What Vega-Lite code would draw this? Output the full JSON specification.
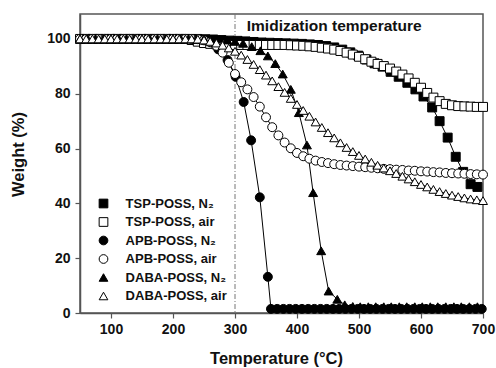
{
  "$schema": "https://vega.github.io/schema/vega-lite/v6.json",
  "width": 403,
  "height": 299,
  "autosize": {"type": "none"},
  "padding": {"left": 80, "top": 14, "right": 13, "bottom": 55},
  "background": "white",
  "config": {
    "font": "Liberation Sans",
    "view": {"stroke": "#555", "strokeWidth": 1.5},
    "axis": {
      "grid": false,
      "domainColor": "#555",
      "domainWidth": 1.5,
      "tickColor": "#555",
      "tickWidth": 1.2,
      "labelFont": "Liberation Sans",
      "labelFontWeight": "bold",
      "labelFontSize": 14,
      "labelColor": "#111",
      "titleFont": "Liberation Sans",
      "titleFontWeight": "bold",
      "titleFontSize": 16.5,
      "titleColor": "#111"
    },
    "legend": {
      "orient": "none",
      "legendX": 17,
      "legendY": 183,
      "padding": 0,
      "rowPadding": 4.5,
      "labelOffset": 15.6,
      "labelFont": "Liberation Sans",
      "labelFontWeight": "bold",
      "labelFontSize": 13,
      "labelColor": "#111",
      "symbolSize": 76,
      "symbolStrokeWidth": 1
    }
  },
  "datasets": {
    "tga": [
    {"series":"TSP-POSS, N₂","temp":57,"weight":100},{"series":"TSP-POSS, N₂","temp":70,"weight":100},{"series":"TSP-POSS, N₂","temp":83,"weight":100},{"series":"TSP-POSS, N₂","temp":96,"weight":100},{"series":"TSP-POSS, N₂","temp":109,"weight":100},{"series":"TSP-POSS, N₂","temp":122,"weight":100},{"series":"TSP-POSS, N₂","temp":135,"weight":100},{"series":"TSP-POSS, N₂","temp":148,"weight":100},{"series":"TSP-POSS, N₂","temp":161,"weight":100},{"series":"TSP-POSS, N₂","temp":174,"weight":100},{"series":"TSP-POSS, N₂","temp":187,"weight":100},{"series":"TSP-POSS, N₂","temp":200,"weight":100},{"series":"TSP-POSS, N₂","temp":213,"weight":100},{"series":"TSP-POSS, N₂","temp":226,"weight":100},{"series":"TSP-POSS, N₂","temp":239,"weight":100},{"series":"TSP-POSS, N₂","temp":252,"weight":99.9},{"series":"TSP-POSS, N₂","temp":265,"weight":99.8},{"series":"TSP-POSS, N₂","temp":278,"weight":99.6},{"series":"TSP-POSS, N₂","temp":291,"weight":99.4},{"series":"TSP-POSS, N₂","temp":304,"weight":99.3},{"series":"TSP-POSS, N₂","temp":317,"weight":99.1},{"series":"TSP-POSS, N₂","temp":330,"weight":98.9},{"series":"TSP-POSS, N₂","temp":343,"weight":98.7},{"series":"TSP-POSS, N₂","temp":356,"weight":98.6},{"series":"TSP-POSS, N₂","temp":369,"weight":98.5},{"series":"TSP-POSS, N₂","temp":382,"weight":98.4},{"series":"TSP-POSS, N₂","temp":395,"weight":98.3},{"series":"TSP-POSS, N₂","temp":408,"weight":98.2},{"series":"TSP-POSS, N₂","temp":421,"weight":98.0},{"series":"TSP-POSS, N₂","temp":434,"weight":97.8},{"series":"TSP-POSS, N₂","temp":447,"weight":97.4},{"series":"TSP-POSS, N₂","temp":460,"weight":96.9},{"series":"TSP-POSS, N₂","temp":473,"weight":96.1},{"series":"TSP-POSS, N₂","temp":486,"weight":95.1},{"series":"TSP-POSS, N₂","temp":499,"weight":93.9},{"series":"TSP-POSS, N₂","temp":512,"weight":92.5},{"series":"TSP-POSS, N₂","temp":525,"weight":91.1},{"series":"TSP-POSS, N₂","temp":538,"weight":89.9},{"series":"TSP-POSS, N₂","temp":551,"weight":88.0},{"series":"TSP-POSS, N₂","temp":564,"weight":86.2},{"series":"TSP-POSS, N₂","temp":578,"weight":84.0},{"series":"TSP-POSS, N₂","temp":591,"weight":81.6},{"series":"TSP-POSS, N₂","temp":604,"weight":79.0},{"series":"TSP-POSS, N₂","temp":618,"weight":75.0},{"series":"TSP-POSS, N₂","temp":630,"weight":70.0},{"series":"TSP-POSS, N₂","temp":643,"weight":64.0},{"series":"TSP-POSS, N₂","temp":656,"weight":57.0},{"series":"TSP-POSS, N₂","temp":668,"weight":51.5},{"series":"TSP-POSS, N₂","temp":680,"weight":47.0},{"series":"TSP-POSS, N₂","temp":691,"weight":46.0},

    {"series":"TSP-POSS, air","temp":50,"weight":100},{"series":"TSP-POSS, air","temp":60,"weight":100},{"series":"TSP-POSS, air","temp":70,"weight":100},{"series":"TSP-POSS, air","temp":80,"weight":100},{"series":"TSP-POSS, air","temp":90,"weight":100},{"series":"TSP-POSS, air","temp":100,"weight":100},{"series":"TSP-POSS, air","temp":110,"weight":100},{"series":"TSP-POSS, air","temp":120,"weight":100},{"series":"TSP-POSS, air","temp":130,"weight":100},{"series":"TSP-POSS, air","temp":140,"weight":100},{"series":"TSP-POSS, air","temp":150,"weight":100},{"series":"TSP-POSS, air","temp":160,"weight":100},{"series":"TSP-POSS, air","temp":170,"weight":100},{"series":"TSP-POSS, air","temp":180,"weight":100},{"series":"TSP-POSS, air","temp":190,"weight":100},{"series":"TSP-POSS, air","temp":200,"weight":100},{"series":"TSP-POSS, air","temp":210,"weight":100},{"series":"TSP-POSS, air","temp":220,"weight":100},{"series":"TSP-POSS, air","temp":230,"weight":99.6},{"series":"TSP-POSS, air","temp":240,"weight":99.0},{"series":"TSP-POSS, air","temp":250,"weight":98.5},{"series":"TSP-POSS, air","temp":260,"weight":98.2},{"series":"TSP-POSS, air","temp":270,"weight":98.0},{"series":"TSP-POSS, air","temp":280,"weight":97.9},{"series":"TSP-POSS, air","temp":290,"weight":97.8},{"series":"TSP-POSS, air","temp":300,"weight":97.8},{"series":"TSP-POSS, air","temp":310,"weight":97.8},{"series":"TSP-POSS, air","temp":320,"weight":97.8},{"series":"TSP-POSS, air","temp":330,"weight":97.8},{"series":"TSP-POSS, air","temp":340,"weight":97.8},{"series":"TSP-POSS, air","temp":350,"weight":97.8},{"series":"TSP-POSS, air","temp":360,"weight":97.8},{"series":"TSP-POSS, air","temp":370,"weight":97.8},{"series":"TSP-POSS, air","temp":380,"weight":97.8},{"series":"TSP-POSS, air","temp":390,"weight":97.7},{"series":"TSP-POSS, air","temp":400,"weight":97.6},{"series":"TSP-POSS, air","temp":410,"weight":97.5},{"series":"TSP-POSS, air","temp":420,"weight":97.3},{"series":"TSP-POSS, air","temp":430,"weight":97.1},{"series":"TSP-POSS, air","temp":440,"weight":96.8},{"series":"TSP-POSS, air","temp":450,"weight":96.5},{"series":"TSP-POSS, air","temp":460,"weight":96.1},{"series":"TSP-POSS, air","temp":470,"weight":95.6},{"series":"TSP-POSS, air","temp":480,"weight":95.0},{"series":"TSP-POSS, air","temp":490,"weight":94.3},{"series":"TSP-POSS, air","temp":500,"weight":93.5},{"series":"TSP-POSS, air","temp":510,"weight":92.6},{"series":"TSP-POSS, air","temp":520,"weight":91.7},{"series":"TSP-POSS, air","temp":530,"weight":90.9},{"series":"TSP-POSS, air","temp":540,"weight":90.1},{"series":"TSP-POSS, air","temp":550,"weight":89.2},{"series":"TSP-POSS, air","temp":560,"weight":88.1},{"series":"TSP-POSS, air","temp":570,"weight":87.0},{"series":"TSP-POSS, air","temp":580,"weight":85.6},{"series":"TSP-POSS, air","temp":590,"weight":84.0},{"series":"TSP-POSS, air","temp":600,"weight":82.2},{"series":"TSP-POSS, air","temp":610,"weight":80.3},{"series":"TSP-POSS, air","temp":620,"weight":78.6},{"series":"TSP-POSS, air","temp":630,"weight":77.3},{"series":"TSP-POSS, air","temp":640,"weight":76.3},{"series":"TSP-POSS, air","temp":650,"weight":75.8},{"series":"TSP-POSS, air","temp":660,"weight":75.5},{"series":"TSP-POSS, air","temp":670,"weight":75.4},{"series":"TSP-POSS, air","temp":680,"weight":75.3},{"series":"TSP-POSS, air","temp":690,"weight":75.2},{"series":"TSP-POSS, air","temp":700,"weight":75.2},

    {"series":"APB-POSS, N₂","temp":52,"weight":100},{"series":"APB-POSS, N₂","temp":65,"weight":100},{"series":"APB-POSS, N₂","temp":78,"weight":100},{"series":"APB-POSS, N₂","temp":91,"weight":100},{"series":"APB-POSS, N₂","temp":104,"weight":100},{"series":"APB-POSS, N₂","temp":117,"weight":100},{"series":"APB-POSS, N₂","temp":130,"weight":100},{"series":"APB-POSS, N₂","temp":143,"weight":100},{"series":"APB-POSS, N₂","temp":156,"weight":100},{"series":"APB-POSS, N₂","temp":169,"weight":100},{"series":"APB-POSS, N₂","temp":182,"weight":100},{"series":"APB-POSS, N₂","temp":195,"weight":100},{"series":"APB-POSS, N₂","temp":208,"weight":100},{"series":"APB-POSS, N₂","temp":221,"weight":100},{"series":"APB-POSS, N₂","temp":234,"weight":100},{"series":"APB-POSS, N₂","temp":247,"weight":99.7},{"series":"APB-POSS, N₂","temp":260,"weight":98.8},{"series":"APB-POSS, N₂","temp":273,"weight":96.2},{"series":"APB-POSS, N₂","temp":288,"weight":92.3},{"series":"APB-POSS, N₂","temp":301,"weight":86.2},{"series":"APB-POSS, N₂","temp":314,"weight":77.0},{"series":"APB-POSS, N₂","temp":326,"weight":63.0},{"series":"APB-POSS, N₂","temp":340,"weight":42.2},{"series":"APB-POSS, N₂","temp":353,"weight":13.2},{"series":"APB-POSS, N₂","temp":358,"weight":1.5},{"series":"APB-POSS, N₂","temp":368,"weight":1.5},{"series":"APB-POSS, N₂","temp":378,"weight":1.5},{"series":"APB-POSS, N₂","temp":388,"weight":1.5},{"series":"APB-POSS, N₂","temp":398,"weight":1.5},{"series":"APB-POSS, N₂","temp":408,"weight":1.5},{"series":"APB-POSS, N₂","temp":418,"weight":1.5},{"series":"APB-POSS, N₂","temp":428,"weight":1.5},{"series":"APB-POSS, N₂","temp":438,"weight":1.5},{"series":"APB-POSS, N₂","temp":448,"weight":1.5},{"series":"APB-POSS, N₂","temp":458,"weight":1.5},{"series":"APB-POSS, N₂","temp":468,"weight":1.5},{"series":"APB-POSS, N₂","temp":478,"weight":1.5},{"series":"APB-POSS, N₂","temp":488,"weight":1.5},{"series":"APB-POSS, N₂","temp":498,"weight":1.5},{"series":"APB-POSS, N₂","temp":508,"weight":1.5},{"series":"APB-POSS, N₂","temp":518,"weight":1.5},{"series":"APB-POSS, N₂","temp":528,"weight":1.5},{"series":"APB-POSS, N₂","temp":538,"weight":1.5},{"series":"APB-POSS, N₂","temp":548,"weight":1.5},{"series":"APB-POSS, N₂","temp":558,"weight":1.5},{"series":"APB-POSS, N₂","temp":568,"weight":1.5},{"series":"APB-POSS, N₂","temp":578,"weight":1.5},{"series":"APB-POSS, N₂","temp":588,"weight":1.5},{"series":"APB-POSS, N₂","temp":598,"weight":1.5},{"series":"APB-POSS, N₂","temp":608,"weight":1.5},{"series":"APB-POSS, N₂","temp":618,"weight":1.5},{"series":"APB-POSS, N₂","temp":628,"weight":1.5},{"series":"APB-POSS, N₂","temp":638,"weight":1.5},{"series":"APB-POSS, N₂","temp":648,"weight":1.5},{"series":"APB-POSS, N₂","temp":658,"weight":1.5},{"series":"APB-POSS, N₂","temp":668,"weight":1.5},{"series":"APB-POSS, N₂","temp":678,"weight":1.5},{"series":"APB-POSS, N₂","temp":688,"weight":1.5},{"series":"APB-POSS, N₂","temp":698,"weight":1.5},

    {"series":"APB-POSS, air","temp":50,"weight":100},{"series":"APB-POSS, air","temp":60,"weight":100},{"series":"APB-POSS, air","temp":70,"weight":100},{"series":"APB-POSS, air","temp":80,"weight":100},{"series":"APB-POSS, air","temp":90,"weight":100},{"series":"APB-POSS, air","temp":100,"weight":100},{"series":"APB-POSS, air","temp":110,"weight":100},{"series":"APB-POSS, air","temp":120,"weight":100},{"series":"APB-POSS, air","temp":130,"weight":100},{"series":"APB-POSS, air","temp":140,"weight":100},{"series":"APB-POSS, air","temp":150,"weight":100},{"series":"APB-POSS, air","temp":160,"weight":100},{"series":"APB-POSS, air","temp":170,"weight":100},{"series":"APB-POSS, air","temp":180,"weight":100},{"series":"APB-POSS, air","temp":190,"weight":100},{"series":"APB-POSS, air","temp":200,"weight":100},{"series":"APB-POSS, air","temp":210,"weight":100},{"series":"APB-POSS, air","temp":220,"weight":100},{"series":"APB-POSS, air","temp":230,"weight":100},{"series":"APB-POSS, air","temp":240,"weight":99.9},{"series":"APB-POSS, air","temp":250,"weight":99.5},{"series":"APB-POSS, air","temp":260,"weight":98.8},{"series":"APB-POSS, air","temp":270,"weight":97.5},{"series":"APB-POSS, air","temp":280,"weight":95.0},{"series":"APB-POSS, air","temp":290,"weight":91.3},{"series":"APB-POSS, air","temp":300,"weight":87.2},{"series":"APB-POSS, air","temp":310,"weight":84.2},{"series":"APB-POSS, air","temp":320,"weight":81.6},{"series":"APB-POSS, air","temp":330,"weight":78.8},{"series":"APB-POSS, air","temp":340,"weight":75.3},{"series":"APB-POSS, air","temp":350,"weight":71.4},{"series":"APB-POSS, air","temp":360,"weight":67.8},{"series":"APB-POSS, air","temp":370,"weight":64.8},{"series":"APB-POSS, air","temp":380,"weight":62.2},{"series":"APB-POSS, air","temp":390,"weight":60.1},{"series":"APB-POSS, air","temp":400,"weight":58.4},{"series":"APB-POSS, air","temp":410,"weight":57.2},{"series":"APB-POSS, air","temp":420,"weight":56.3},{"series":"APB-POSS, air","temp":430,"weight":55.6},{"series":"APB-POSS, air","temp":440,"weight":55.1},{"series":"APB-POSS, air","temp":450,"weight":54.7},{"series":"APB-POSS, air","temp":460,"weight":54.3},{"series":"APB-POSS, air","temp":470,"weight":54.0},{"series":"APB-POSS, air","temp":480,"weight":53.8},{"series":"APB-POSS, air","temp":490,"weight":53.6},{"series":"APB-POSS, air","temp":500,"weight":53.4},{"series":"APB-POSS, air","temp":510,"weight":53.2},{"series":"APB-POSS, air","temp":520,"weight":53.0},{"series":"APB-POSS, air","temp":530,"weight":52.8},{"series":"APB-POSS, air","temp":540,"weight":52.6},{"series":"APB-POSS, air","temp":550,"weight":52.5},{"series":"APB-POSS, air","temp":560,"weight":52.3},{"series":"APB-POSS, air","temp":570,"weight":52.2},{"series":"APB-POSS, air","temp":580,"weight":52.0},{"series":"APB-POSS, air","temp":590,"weight":51.9},{"series":"APB-POSS, air","temp":600,"weight":51.7},{"series":"APB-POSS, air","temp":610,"weight":51.6},{"series":"APB-POSS, air","temp":620,"weight":51.4},{"series":"APB-POSS, air","temp":630,"weight":51.3},{"series":"APB-POSS, air","temp":640,"weight":51.1},{"series":"APB-POSS, air","temp":650,"weight":51.0},{"series":"APB-POSS, air","temp":660,"weight":50.9},{"series":"APB-POSS, air","temp":670,"weight":50.8},{"series":"APB-POSS, air","temp":680,"weight":50.7},{"series":"APB-POSS, air","temp":690,"weight":50.6},{"series":"APB-POSS, air","temp":700,"weight":50.5},

    {"series":"DABA-POSS, N₂","temp":50,"weight":100},{"series":"DABA-POSS, N₂","temp":62.5,"weight":100},{"series":"DABA-POSS, N₂","temp":75,"weight":100},{"series":"DABA-POSS, N₂","temp":87.5,"weight":100},{"series":"DABA-POSS, N₂","temp":100,"weight":100},{"series":"DABA-POSS, N₂","temp":112.5,"weight":100},{"series":"DABA-POSS, N₂","temp":125,"weight":100},{"series":"DABA-POSS, N₂","temp":137.5,"weight":100},{"series":"DABA-POSS, N₂","temp":150,"weight":100},{"series":"DABA-POSS, N₂","temp":162.5,"weight":100},{"series":"DABA-POSS, N₂","temp":175,"weight":100},{"series":"DABA-POSS, N₂","temp":187.5,"weight":100},{"series":"DABA-POSS, N₂","temp":200,"weight":100},{"series":"DABA-POSS, N₂","temp":212.5,"weight":100},{"series":"DABA-POSS, N₂","temp":225,"weight":100},{"series":"DABA-POSS, N₂","temp":237.5,"weight":100},{"series":"DABA-POSS, N₂","temp":250,"weight":100},{"series":"DABA-POSS, N₂","temp":262.5,"weight":100},{"series":"DABA-POSS, N₂","temp":275,"weight":100},{"series":"DABA-POSS, N₂","temp":287.5,"weight":99.6},{"series":"DABA-POSS, N₂","temp":300,"weight":99.1},{"series":"DABA-POSS, N₂","temp":313,"weight":98.4},{"series":"DABA-POSS, N₂","temp":327,"weight":97.2},{"series":"DABA-POSS, N₂","temp":341,"weight":95.7},{"series":"DABA-POSS, N₂","temp":353,"weight":93.8},{"series":"DABA-POSS, N₂","temp":365,"weight":91.0},{"series":"DABA-POSS, N₂","temp":377,"weight":87.2},{"series":"DABA-POSS, N₂","temp":390,"weight":81.6},{"series":"DABA-POSS, N₂","temp":403,"weight":73.1},{"series":"DABA-POSS, N₂","temp":416,"weight":61.3},{"series":"DABA-POSS, N₂","temp":426,"weight":43.9},{"series":"DABA-POSS, N₂","temp":439,"weight":22.7},{"series":"DABA-POSS, N₂","temp":451,"weight":8.0},{"series":"DABA-POSS, N₂","temp":465,"weight":5.0},{"series":"DABA-POSS, N₂","temp":477,"weight":3.0},{"series":"DABA-POSS, N₂","temp":490,"weight":2.4},{"series":"DABA-POSS, N₂","temp":502,"weight":2.3},{"series":"DABA-POSS, N₂","temp":515,"weight":2.3},{"series":"DABA-POSS, N₂","temp":527,"weight":2.3},{"series":"DABA-POSS, N₂","temp":540,"weight":2.3},{"series":"DABA-POSS, N₂","temp":552,"weight":2.3},{"series":"DABA-POSS, N₂","temp":565,"weight":2.3},{"series":"DABA-POSS, N₂","temp":577,"weight":2.3},{"series":"DABA-POSS, N₂","temp":590,"weight":2.3},{"series":"DABA-POSS, N₂","temp":602,"weight":2.3},{"series":"DABA-POSS, N₂","temp":615,"weight":2.3},{"series":"DABA-POSS, N₂","temp":627,"weight":2.3},{"series":"DABA-POSS, N₂","temp":640,"weight":2.3},{"series":"DABA-POSS, N₂","temp":653,"weight":2.3},{"series":"DABA-POSS, N₂","temp":665,"weight":2.3},{"series":"DABA-POSS, N₂","temp":678,"weight":2.3},{"series":"DABA-POSS, N₂","temp":691,"weight":2.3},

    {"series":"DABA-POSS, air","temp":50,"weight":100},{"series":"DABA-POSS, air","temp":60,"weight":100},{"series":"DABA-POSS, air","temp":70,"weight":100},{"series":"DABA-POSS, air","temp":80,"weight":100},{"series":"DABA-POSS, air","temp":90,"weight":100},{"series":"DABA-POSS, air","temp":100,"weight":100},{"series":"DABA-POSS, air","temp":110,"weight":100},{"series":"DABA-POSS, air","temp":120,"weight":100},{"series":"DABA-POSS, air","temp":130,"weight":100},{"series":"DABA-POSS, air","temp":140,"weight":100},{"series":"DABA-POSS, air","temp":150,"weight":100},{"series":"DABA-POSS, air","temp":160,"weight":100},{"series":"DABA-POSS, air","temp":170,"weight":100},{"series":"DABA-POSS, air","temp":180,"weight":100},{"series":"DABA-POSS, air","temp":190,"weight":100},{"series":"DABA-POSS, air","temp":200,"weight":100},{"series":"DABA-POSS, air","temp":210,"weight":100},{"series":"DABA-POSS, air","temp":220,"weight":100},{"series":"DABA-POSS, air","temp":230,"weight":100},{"series":"DABA-POSS, air","temp":240,"weight":99.9},{"series":"DABA-POSS, air","temp":250,"weight":99.6},{"series":"DABA-POSS, air","temp":260,"weight":99.1},{"series":"DABA-POSS, air","temp":270,"weight":98.5},{"series":"DABA-POSS, air","temp":280,"weight":97.7},{"series":"DABA-POSS, air","temp":290,"weight":96.7},{"series":"DABA-POSS, air","temp":300,"weight":95.5},{"series":"DABA-POSS, air","temp":310,"weight":94.1},{"series":"DABA-POSS, air","temp":320,"weight":92.5},{"series":"DABA-POSS, air","temp":330,"weight":90.7},{"series":"DABA-POSS, air","temp":340,"weight":88.8},{"series":"DABA-POSS, air","temp":350,"weight":86.8},{"series":"DABA-POSS, air","temp":360,"weight":84.7},{"series":"DABA-POSS, air","temp":370,"weight":82.6},{"series":"DABA-POSS, air","temp":380,"weight":80.5},{"series":"DABA-POSS, air","temp":390,"weight":78.3},{"series":"DABA-POSS, air","temp":400,"weight":76.1},{"series":"DABA-POSS, air","temp":410,"weight":73.9},{"series":"DABA-POSS, air","temp":420,"weight":71.8},{"series":"DABA-POSS, air","temp":430,"weight":69.7},{"series":"DABA-POSS, air","temp":440,"weight":67.7},{"series":"DABA-POSS, air","temp":450,"weight":65.8},{"series":"DABA-POSS, air","temp":460,"weight":63.9},{"series":"DABA-POSS, air","temp":470,"weight":62.1},{"series":"DABA-POSS, air","temp":480,"weight":60.4},{"series":"DABA-POSS, air","temp":490,"weight":58.9},{"series":"DABA-POSS, air","temp":500,"weight":57.5},{"series":"DABA-POSS, air","temp":510,"weight":56.2},{"series":"DABA-POSS, air","temp":520,"weight":55.0},{"series":"DABA-POSS, air","temp":530,"weight":53.9},{"series":"DABA-POSS, air","temp":540,"weight":52.9},{"series":"DABA-POSS, air","temp":550,"weight":51.9},{"series":"DABA-POSS, air","temp":560,"weight":50.9},{"series":"DABA-POSS, air","temp":570,"weight":49.9},{"series":"DABA-POSS, air","temp":580,"weight":48.9},{"series":"DABA-POSS, air","temp":590,"weight":47.9},{"series":"DABA-POSS, air","temp":600,"weight":46.9},{"series":"DABA-POSS, air","temp":610,"weight":46.0},{"series":"DABA-POSS, air","temp":620,"weight":45.1},{"series":"DABA-POSS, air","temp":630,"weight":44.3},{"series":"DABA-POSS, air","temp":640,"weight":43.6},{"series":"DABA-POSS, air","temp":650,"weight":43.0},{"series":"DABA-POSS, air","temp":660,"weight":42.5},{"series":"DABA-POSS, air","temp":670,"weight":42.0},{"series":"DABA-POSS, air","temp":680,"weight":41.6},{"series":"DABA-POSS, air","temp":690,"weight":41.3},{"series":"DABA-POSS, air","temp":700,"weight":41.0}
    ],
    "note": [{"label": "Imidization temperature"}]
  },
  "layer": [
    {
      "data": {"name": "note"},
      "mark": {"type": "rule", "color": "#777", "strokeWidth": 1, "strokeDash": [5, 2, 1, 2]},
      "encoding": {"x": {"datum": 300, "type": "quantitative", "scale": {"domain": [50, 700], "nice": false, "zero": false}}}
    },
    {
      "data": {"name": "tga"},
      "mark": {"type": "line", "color": "black", "strokeWidth": 1},
      "encoding": {
        "x": {
          "field": "temp", "type": "quantitative",
          "scale": {"domain": [50, 700], "nice": false, "zero": false},
          "axis": {
            "title": "Temperature (°C)",
            "values": [100,150,200,250,300,350,400,450,500,550,600,650,700],
            "labelExpr": "datum.value % 100 === 0 ? datum.label : ''",
            "tickSize": {"condition": {"test": "datum.value % 100 === 0", "value": 5}, "value": 3},
            "labelPadding": 4,
            "labelFlush": false,
            "titleX": 196, "titleY": 50, "titleBaseline": "alphabetic", "titleAlign": "center"
          }
        },
        "y": {
          "field": "weight", "type": "quantitative",
          "scale": {"domain": [0, 109.1], "nice": false},
          "axis": {
            "title": "Weight (%)",
            "values": [0,10,20,30,40,50,60,70,80,90,100],
            "labelExpr": "datum.value % 20 === 0 ? datum.label : ''",
            "tickSize": {"condition": {"test": "datum.value % 20 === 0", "value": 5}, "value": 3},
            "labelPadding": 5,
            "labelFlush": false,
            "titleAngle": -90, "titleX": -57, "titleY": 140, "titleBaseline": "alphabetic", "titleAlign": "center"
          }
        },
        "detail": {"field": "series"}
      }
    },
    {
      "data": {"name": "tga"},
      "mark": {"type": "point", "filled": true, "strokeWidth": 1, "opacity": 1, "size": 80},
      "encoding": {
        "x": {"field": "temp", "type": "quantitative"},
        "y": {"field": "weight", "type": "quantitative"},
        "shape": {
          "field": "series", "type": "nominal", "title": null,
          "scale": {
            "domain": ["TSP-POSS, N₂","TSP-POSS, air","APB-POSS, N₂","APB-POSS, air","DABA-POSS, N₂","DABA-POSS, air"],
            "range": ["square","square","circle","circle","triangle-up","triangle-up"]
          }
        },
        "fill": {
          "field": "series", "type": "nominal", "title": null,
          "scale": {
            "domain": ["TSP-POSS, N₂","TSP-POSS, air","APB-POSS, N₂","APB-POSS, air","DABA-POSS, N₂","DABA-POSS, air"],
            "range": ["black","white","black","white","black","white"]
          }
        },
        "stroke": {
          "field": "series", "type": "nominal", "title": null,
          "scale": {
            "domain": ["TSP-POSS, N₂","TSP-POSS, air","APB-POSS, N₂","APB-POSS, air","DABA-POSS, N₂","DABA-POSS, air"],
            "range": ["black","black","black","black","black","black"]
          }
        }
      }
    },
    {
      "data": {"name": "note"},
      "mark": {"type": "text", "align": "left", "baseline": "alphabetic", "fontSize": 15.5, "fontWeight": "bold", "font": "Liberation Sans", "color": "#111"},
      "encoding": {"text": {"field": "label"}, "x": {"datum": 319, "type": "quantitative"}, "y": {"datum": 103, "type": "quantitative"}}
    }
  ]
}
